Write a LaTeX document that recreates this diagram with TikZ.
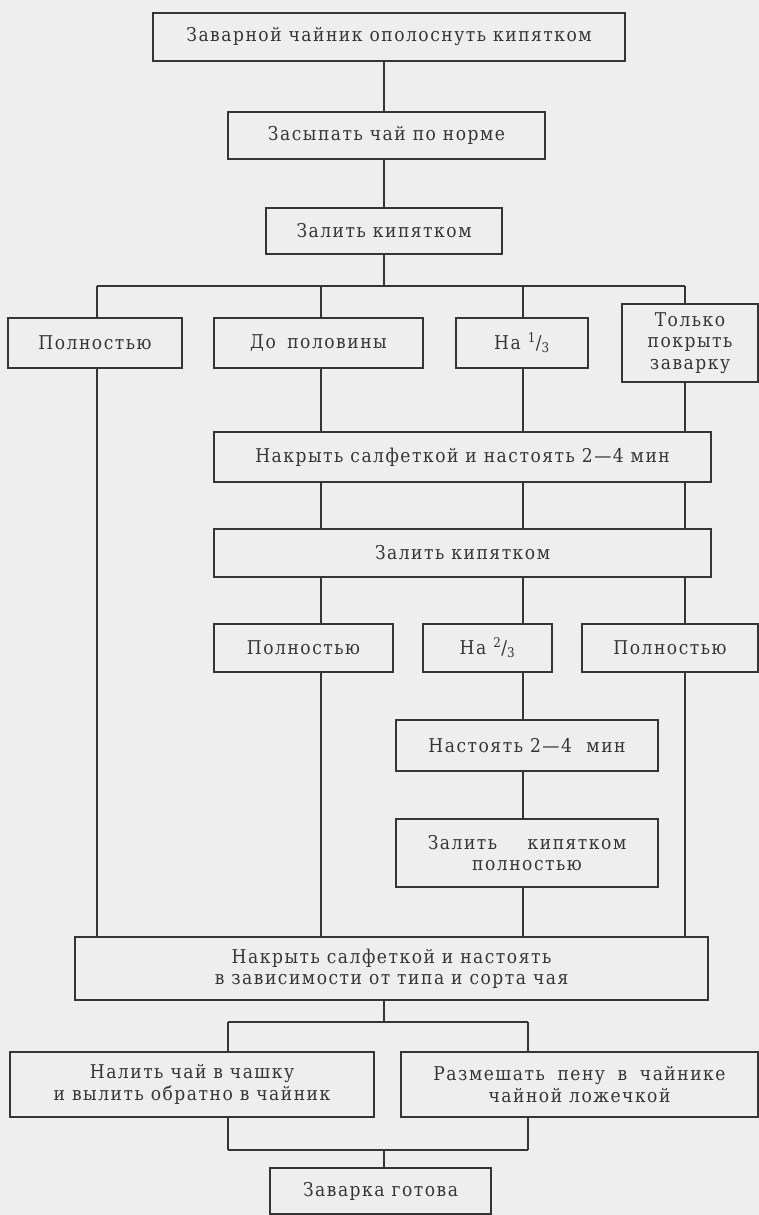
\documentclass[tikz,border=0pt]{standalone}
\usepackage{fontspec}
\setmainfont{DejaVu Serif Condensed}[LetterSpace=8]
\definecolor{ink}{HTML}{353535}
\definecolor{paper}{HTML}{EEEEEE}
\newcommand\boxfont{\fontsize{19}{21.5}\selectfont}
\begin{document}
\begin{tikzpicture}[x=1pt,y=-1pt,
  box/.style={draw=ink, line width=1.5pt, text=ink, align=center, inner sep=0pt, font=\boxfont},
  conn/.style={draw=ink, line width=1.5pt}]
\fill[paper] (0,0) rectangle (759,1215);
\useasboundingbox (0,0) rectangle (759,1215);
% columns
\coordinate (cA) at (97,0);
\coordinate (cB) at (321,0);
\coordinate (cC) at (523,0);
\coordinate (cD) at (685,0);
\coordinate (cM) at (384,0);
\coordinate (bA) at (97,286);
\coordinate (bD) at (685,286);
\coordinate (bE1) at (228,1022);
\coordinate (bE2) at (528,1022);
\coordinate (bF1) at (228,1150);
\coordinate (bF2) at (528,1150);
% nodes
\node[box, minimum width=472pt, minimum height=48pt] (n1) at (389,37) {Заварной чайник ополоснуть кипятком};
\node[box, minimum width=317pt, minimum height=47pt] (n2) at (386.5,135.5) {Засыпать чай по норме};
\node[box, minimum width=236pt, minimum height=46pt] (n3) at (384,231) {Залить кипятком};
\node[box, minimum width=174pt, minimum height=50pt] (p1) at (95,343) {Полностью};
\node[box, minimum width=209pt, minimum height=50pt] (p2) at (318.5,343) {До\hspace{0.6em}половины};
\node[box, minimum width=132pt, minimum height=50pt] (p3) at (522,343) {На \textsuperscript{1}/\textsubscript{3}};
\node[box, minimum width=136pt, minimum height=78pt] (p4) at (690,343) {Только\\покрыть\\заварку};
\node[box, minimum width=497pt, minimum height=50pt] (n4) at (462.5,457) {Накрыть салфеткой и настоять 2—4 мин};
\node[box, minimum width=497pt, minimum height=48pt] (n5) at (462.5,553) {Залить кипятком};
\node[box, minimum width=179pt, minimum height=48pt] (q1) at (303.5,648) {Полностью};
\node[box, minimum width=129pt, minimum height=48pt] (q2) at (487.5,648) {На \textsuperscript{2}/\textsubscript{3}};
\node[box, minimum width=176pt, minimum height=48pt] (q3) at (670,648) {Полностью};
\node[box, minimum width=262pt, minimum height=51pt] (n6) at (527,745.5) {Настоять 2—4\hspace{0.4em} мин};
\node[box, minimum width=262pt, minimum height=68pt] (n7) at (527,853) {Залить\hspace{1.6em}кипятком\\полностью};
\node[box, minimum width=633pt, minimum height=63pt] (n8) at (391.5,968.5) {Накрыть салфеткой и настоять\\в зависимости от типа и сорта чая};
\node[box, minimum width=364pt, minimum height=65pt] (r1) at (192,1084.5) {Налить чай в чашку\\и вылить обратно в чайник};
\node[box, minimum width=357pt, minimum height=65pt] (r2) at (579.5,1084.5) {Размешать\hspace{0.3em} пену\hspace{0.3em} в\hspace{0.3em} чайнике\\чайной ложечкой};
\node[box, minimum width=221pt, minimum height=46pt] (fin) at (380.5,1191) {Заварка готова};
% connectors
\draw[conn] (n1.south -| cM) -- (n2.north -| cM);
\draw[conn] (n2.south -| cM) -- (n3.north -| cM);
\draw[conn] (n3.south -| cM) -- (cM |- bA);
\draw[conn] (bA) -- (bD);
\draw[conn] (bA) -- (p1.north -| bA);
\draw[conn] (cB |- bA) -- (p2.north -| cB);
\draw[conn] (cC |- bA) -- (p3.north -| cC);
\draw[conn] (bD) -- (p4.north -| bD);
\draw[conn] (p1.south -| cA) -- (n8.north -| cA);
\draw[conn] (p2.south -| cB) -- (n4.north -| cB);
\draw[conn] (p3.south -| cC) -- (n4.north -| cC);
\draw[conn] (p4.south -| cD) -- (n4.north -| cD);
\draw[conn] (n4.south -| cB) -- (n5.north -| cB);
\draw[conn] (n4.south -| cC) -- (n5.north -| cC);
\draw[conn] (n4.south -| cD) -- (n5.north -| cD);
\draw[conn] (n5.south -| cB) -- (q1.north -| cB);
\draw[conn] (n5.south -| cC) -- (q2.north -| cC);
\draw[conn] (n5.south -| cD) -- (q3.north -| cD);
\draw[conn] (q1.south -| cB) -- (n8.north -| cB);
\draw[conn] (q2.south -| cC) -- (n6.north -| cC);
\draw[conn] (n6.south -| cC) -- (n7.north -| cC);
\draw[conn] (n7.south -| cC) -- (n8.north -| cC);
\draw[conn] (q3.south -| cD) -- (n8.north -| cD);
\draw[conn] (n8.south -| cM) -- (cM |- bE1);
\draw[conn] (bE1) -- (bE2);
\draw[conn] (bE1) -- (r1.north -| bE1);
\draw[conn] (bE2) -- (r2.north -| bE2);
\draw[conn] (r1.south -| bE1) -- (bF1);
\draw[conn] (r2.south -| bE2) -- (bF2);
\draw[conn] (bF1) -- (bF2);
\draw[conn] (cM |- bF1) -- (fin.north -| cM);
\end{tikzpicture}
\end{document}
